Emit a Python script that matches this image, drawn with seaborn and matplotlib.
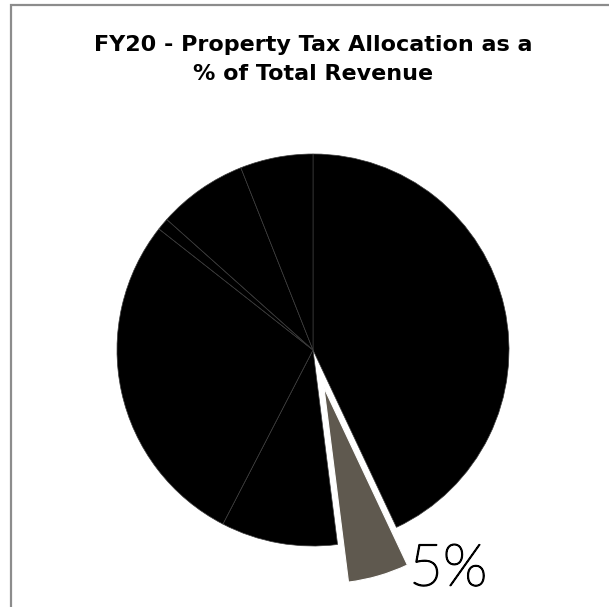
import matplotlib
matplotlib.use("Agg")
import matplotlib.pyplot as plt
from matplotlib.patches import Rectangle
import matplotlib.patheffects as pe
import seaborn as sns

# Revenue shares (percent of total revenue), clockwise from 12 o'clock
categories = ["Other Revenue A", "Property Tax Allocation", "Other Revenue B",
              "Other Revenue C", "Other Revenue D", "Other Revenue E",
              "Other Revenue F"]
shares = [43.0, 5.0, 9.6, 28.0, 1.0, 7.4, 6.0]
highlight = "Property Tax Allocation"
title_lines = ["FY20 - Property Tax Allocation as a", "% of Total Revenue"]

sns.set_theme(style="white")
plt.rcParams["font.family"] = ["DejaVu Sans"]

W, H, DPI = 609, 607, 100
fig = plt.figure(figsize=(W / DPI, H / DPI), dpi=DPI)
fig.patch.set_facecolor("white")

# pie centre and radius in pixels
cx, cy, R = 313, 350, 196
lim = 1.4
side = 2 * lim * R
ax = fig.add_axes([(cx - side / 2) / W, (H - cy - side / 2) / H, side / W, side / H])

colors = ["#5f594f" if c == highlight else "#000000" for c in categories]
explode = [0.2 if c == highlight else 0.0 for c in categories]

wedges, _ = ax.pie(shares, colors=colors, explode=explode, startangle=90,
                   counterclock=False, radius=1.0,
                   wedgeprops=dict(edgecolor="#3c3c3c", linewidth=0.5))
# the exploded wedge has a clean white outline
hi = categories.index(highlight)
wedges[hi].set_edgecolor("white")
wedges[hi].set_linewidth(0.8)

ax.set_xlim(-lim, lim)
ax.set_ylim(-lim, lim)
ax.set_aspect("equal")
ax.axis("off")

# value label beside the highlighted wedge (light face, slightly stroked)
ax.text(0.69, -1.12, f"{shares[hi]:.0f}%", ha="center", va="center",
        fontsize=42, fontweight="light", family=["Lato", "DejaVu Sans"],
        color="black",
        path_effects=[pe.withStroke(linewidth=1.1, foreground="black")])

# chart title
fig.text(cx / W, 1 - 51 / H, title_lines[0], ha="center", va="baseline",
         fontsize=16, fontweight="bold", color="black")
fig.text(cx / W, 1 - 80 / H, title_lines[1], ha="center", va="baseline",
         fontsize=16, fontweight="bold", color="black")

# chart-area border (left and top edges visible)
fig.patches.append(Rectangle((11 / W, -0.2), 1.5, 1.2 - 4.5 / H,
                             transform=fig.transFigure, fill=False,
                             edgecolor="#8c8c8c", linewidth=1.6))

fig.savefig("out.png", dpi=DPI, facecolor="white")
